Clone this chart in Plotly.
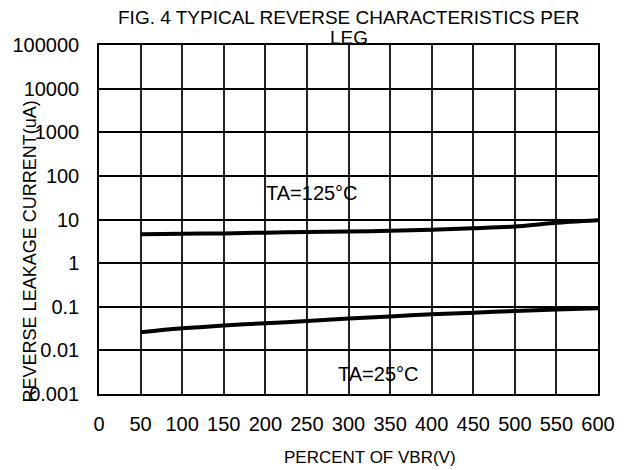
import math
import plotly.graph_objects as go

# ---- data ----
x_vals = [50, 100, 150, 200, 250, 300, 350, 400, 450, 500, 550, 600]
ta125 = [4.6, 4.7, 4.8, 5.0, 5.15, 5.3, 5.5, 5.8, 6.3, 6.9, 8.4, 9.6]
ta25 = [0.026, 0.032, 0.037, 0.042, 0.047, 0.054, 0.060, 0.067, 0.073, 0.080, 0.087, 0.092]

x_ticks = list(range(0, 601, 50))
y_tickvals = [0.001, 0.01, 0.1, 1, 10, 100, 1000, 10000, 100000]
y_ticktext = ["0.001", "0.01", "0.1", "1", "10", "100", "1000", "10000", "100000"]

title_lines = ["FIG. 4 TYPICAL REVERSE CHARACTERISTICS PER", "LEG"]
x_title = "PERCENT OF VBR(V)"
y_title = "REVERSE LEAKAGE CURRENT(uA)"
labels = [("TA=125°C", 256, 40), ("TA=25°C", 336, 0.0028)]

FONT = "Liberation Sans, Arial, sans-serif"

fig = go.Figure()
for series in (ta125, ta25):
    fig.add_trace(go.Scatter(x=x_vals, y=series, mode="lines",
                             line=dict(color="black", width=4, shape="spline", smoothing=0.6),
                             showlegend=False, hoverinfo="skip"))

W, H = 628, 470
L, R, T, B = 96, 598, 45, 394

fig.update_layout(
    width=W, height=H,
    margin=dict(l=L, r=W - R, t=T, b=H - B, pad=0),
    paper_bgcolor="white", plot_bgcolor="white",
    font=dict(family=FONT, color="black", size=20),
    showlegend=False,
)
fig.update_xaxes(
    range=[0, 600], tickvals=x_ticks, showgrid=True, gridcolor="#222", gridwidth=1.5,
    showline=True, linecolor="black", linewidth=1.5, mirror=True, zeroline=False,
    ticks="", ticklabelstandoff=11, tickfont=dict(size=20, family=FONT),
)
fig.update_yaxes(
    type="log", range=[-3, 5], tickvals=y_tickvals, ticktext=y_ticktext,
    showgrid=True, gridcolor="black", gridwidth=1.5,
    showline=True, linecolor="black", linewidth=1.5, mirror=True, zeroline=False,
    ticks="", ticklabelstandoff=14, tickfont=dict(size=20, family=FONT),
)

# title lines
fig.add_annotation(text=title_lines[0], xref="paper", yref="paper",
                   x=(347 - L) / (R - L), y=1 + (T - 18) / (B - T), showarrow=False,
                   font=dict(size=19, family=FONT), xanchor="center", yanchor="middle")
fig.add_annotation(text=title_lines[1], xref="paper", yref="paper",
                   x=(347 - L) / (R - L), y=1 + (T - 37) / (B - T), showarrow=False,
                   font=dict(size=19, family=FONT), xanchor="center", yanchor="middle")
# axis titles
fig.add_annotation(text=x_title, xref="paper", yref="paper",
                   x=(369 - L) / (R - L), y=-(457 - B) / (B - T), showarrow=False,
                   font=dict(size=17, family=FONT), xanchor="center", yanchor="middle")
fig.add_annotation(text=y_title, xref="paper", yref="paper", textangle=-90,
                   x=(27 - L) / (R - L), y=(B - 251) / (B - T), showarrow=False,
                   font=dict(size=18, family=FONT), xanchor="center", yanchor="middle")
# curve labels
for txt, lx, ly in labels:
    fig.add_annotation(text=txt, x=lx, y=math.log10(ly), xref="x", yref="y",
                       showarrow=False, font=dict(size=20, family=FONT),
                       xanchor="center", yanchor="middle")

fig.write_html("out.html", config={"displayModeBar": False},
               post_script="document.body.style.margin='0';")
